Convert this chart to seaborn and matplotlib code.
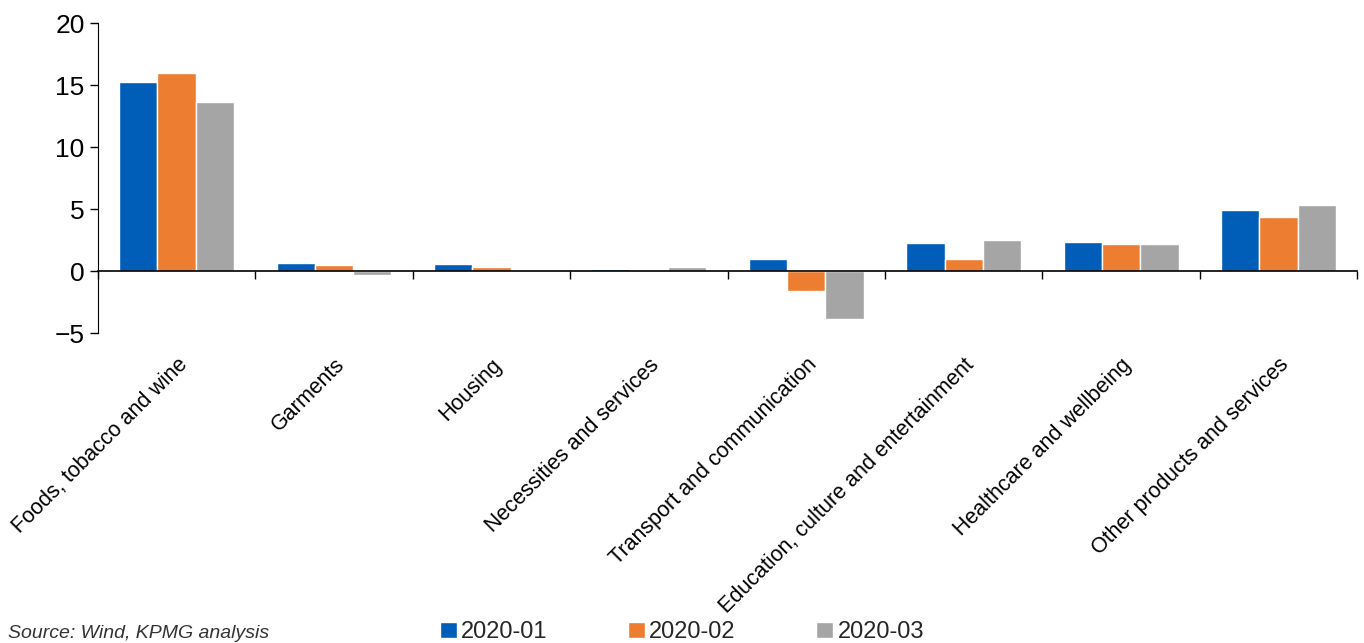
import numpy as np
import matplotlib
matplotlib.use("Agg")
import matplotlib.pyplot as plt
import pandas as pd
import seaborn as sns

categories = ["Foods, tobacco and wine", "Garments", "Housing", "Necessities and services",
              "Transport and communication", "Education, culture and entertainment",
              "Healthcare and wellbeing", "Other products and services"]
jan = [15.25, 0.65, 0.55, 0.2, 1.0, 2.25, 2.35, 4.9]
feb = [15.97, 0.5, 0.3, 0.05, -1.6, 0.97, 2.2, 4.35]
mar = [13.6, -0.3, -0.1, 0.3, -3.85, 2.5, 2.2, 5.3]
periods = ["2020-01", "2020-02", "2020-03"]
colors = ["#005EB8", "#ED7D31", "#A5A5A5"]

df = pd.DataFrame({"category": categories * 3,
                   "value": jan + feb + mar,
                   "period": np.repeat(periods, len(categories))})

sns.set_style("white")
plt.rcParams["font.family"] = ["Liberation Sans Narrow", "Liberation Sans", "DejaVu Sans"]

fig = plt.figure(figsize=(13.64, 6.43), dpi=100)
ax = fig.add_axes([0.0718, 0.482, 0.9232, 0.482])

sns.barplot(data=df, x="category", y="value", hue="period", palette=colors,
            saturation=1, width=0.73, gap=0, ax=ax, legend=True)

ax.set_ylim(-5, 20)
ax.set_xlim(-0.5, len(categories) - 0.5)
ax.set_yticks([-5, 0, 5, 10, 15, 20])
ax.tick_params(axis="y", labelsize=19, length=6, direction="out", left=True, width=1,
               color="black", labelcolor="black")
ax.set_xlabel("")
ax.set_ylabel("")

for s in ["top", "right"]:
    ax.spines[s].set_visible(False)
ax.spines["left"].set_color("black")
ax.spines["bottom"].set_color("black")
ax.spines["bottom"].set_linewidth(1.2)
ax.spines["bottom"].set_position(("data", 0))

# boundary ticks between categories on the zero line
ax.set_xticks(np.arange(len(categories) + 1) - 0.5, minor=True)
ax.tick_params(axis="x", which="minor", length=6, direction="out", bottom=True, width=1, color="black")
ax.tick_params(axis="x", which="major", length=0, pad=60, labelsize=15.5, labelcolor="black")
plt.setp(ax.get_xticklabels(), rotation=45, ha="right", rotation_mode="anchor")

handles, labels = ax.get_legend_handles_labels()
ax.legend(handles, labels, loc="center", bbox_to_anchor=(0.5, 0.017), bbox_transform=fig.transFigure,
          ncol=3, frameon=False, fontsize=17, handlelength=0.7, handleheight=0.7,
          handletextpad=0.2, columnspacing=3.4)

fig.text(0.006, 0.002, "Source: Wind, KPMG analysis", fontsize=14, style="italic",
         ha="left", va="bottom", color="#333333")

fig.savefig("out.png", dpi=100)
